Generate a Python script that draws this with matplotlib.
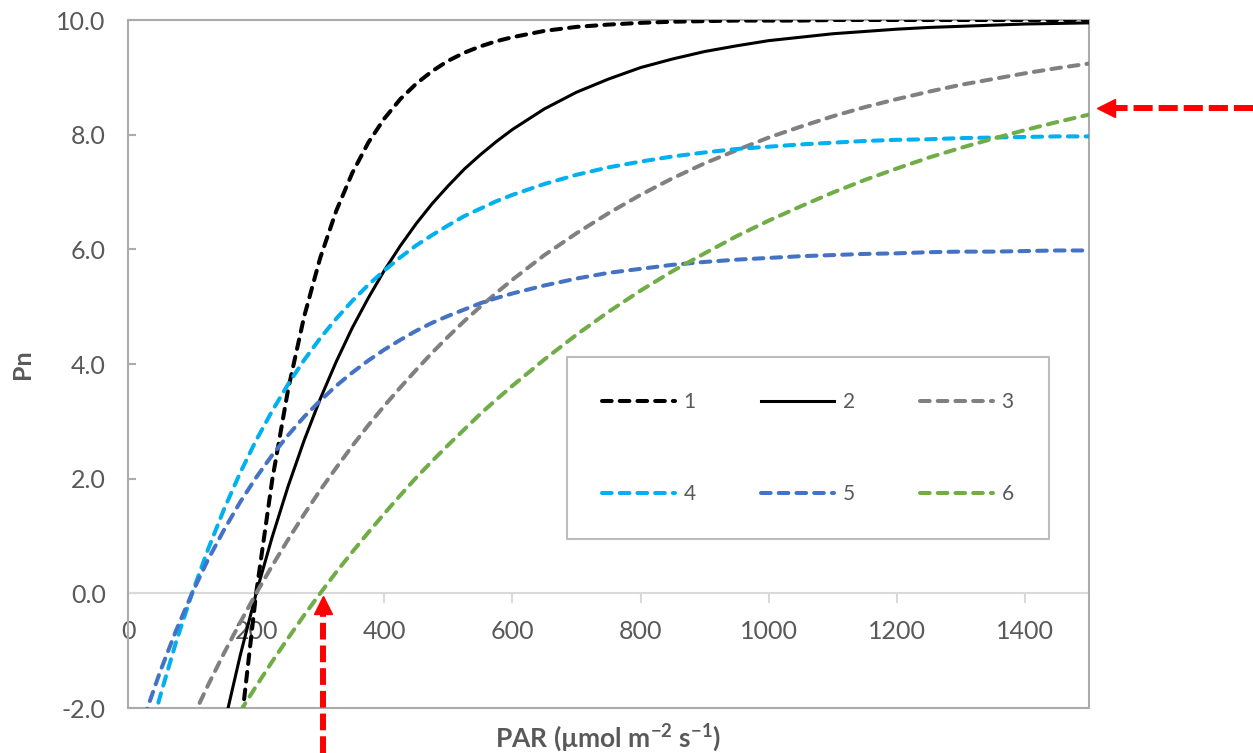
import numpy as np
import matplotlib
matplotlib.use('Agg')
import matplotlib.pyplot as plt
from matplotlib.lines import Line2D
from matplotlib.patches import Rectangle
from matplotlib.ticker import FormatStrFormatter

plt.rcParams['font.family'] = ['Lato', 'DejaVu Sans']
plt.rcParams['mathtext.fontset'] = 'custom'
plt.rcParams['mathtext.rm'] = 'Lato:bold'
plt.rcParams['mathtext.default'] = 'rm'
plt.rcParams['axes.unicode_minus'] = False

nan = np.nan

# PAR values (umol m-2 s-1)
par = [0, 25, 50, 75, 100, 125, 150, 175, 200, 225, 250, 275, 300, 325, 350, 375,
       400, 425, 450, 475, 500, 525, 550, 575, 600,
       650, 700, 750, 800, 850, 900, 950, 1000, 1050, 1100, 1150, 1200, 1250, 1300,
       1350, 1400, 1450, 1500]

pn_1 = [nan, nan, nan, nan, nan, nan, nan, -2.46, 0.00, 1.97, 3.56, 4.83, 5.85, 6.67, 7.33, 7.86,
        8.28, 8.62, 8.89, 9.11, 9.29, 9.43, 9.54, 9.63, 9.70,
        9.81, 9.88, 9.92, 9.95, 9.97, 9.98, 9.99, 9.99, 9.99, 10.0, 10.0, 10.0, 10.0, 10.0,
        10.0, 10.0, 10.0, 10.0]
pn_2 = [nan, nan, nan, nan, nan, nan, -2.30, -1.09, 0.00, 0.98, 1.87, 2.67, 3.39, 4.04, 4.63, 5.15,
        5.63, 6.06, 6.45, 6.80, 7.11, 7.40, 7.65, 7.88, 8.09,
        8.45, 8.74, 8.97, 9.17, 9.32, 9.45, 9.55, 9.64, 9.70, 9.76, 9.80, 9.84, 9.87, 9.89,
        9.91, 9.93, 9.94, 9.95]
pn_3 = [nan, nan, nan, nan, -2.19, -1.60, -1.04, -0.51, 0.00, 0.48, 0.94, 1.38, 1.80, 2.19, 2.57, 2.93,
        3.27, 3.59, 3.90, 4.20, 4.48, 4.75, 5.00, 5.24, 5.47,
        5.90, 6.28, 6.63, 6.95, 7.24, 7.50, 7.73, 7.95, 8.14, 8.32, 8.48, 8.62, 8.75, 8.87,
        8.97, 9.07, 9.16, 9.24]
pn_4 = [nan, -2.85, -1.80, -0.85, 0.00, 0.77, 1.47, 2.10, 2.67, 3.18, 3.65, 4.07, 4.45, 4.79, 5.10, 5.38,
        5.63, 5.86, 6.07, 6.25, 6.42, 6.58, 6.71, 6.84, 6.95,
        7.14, 7.30, 7.43, 7.53, 7.62, 7.69, 7.75, 7.79, 7.83, 7.86, 7.89, 7.91, 7.92, 7.94,
        7.95, 7.96, 7.97, 7.97]
pn_5 = [nan, -2.17, -1.37, -0.65, 0.00, 0.59, 1.11, 1.59, 2.02, 2.41, 2.76, 3.08, 3.36, 3.62, 3.85, 4.06,
        4.25, 4.42, 4.58, 4.72, 4.84, 4.95, 5.06, 5.15, 5.23,
        5.37, 5.49, 5.59, 5.66, 5.73, 5.78, 5.82, 5.85, 5.88, 5.90, 5.92, 5.93, 5.95, 5.96,
        5.96, 5.97, 5.98, 5.98]
pn_6 = [nan, nan, nan, nan, nan, nan, nan, -2.06, -1.62, -1.19, -0.78, -0.38, 0.00, 0.37, 0.72, 1.06,
        1.39, 1.71, 2.02, 2.31, 2.59, 2.86, 3.13, 3.38, 3.62,
        4.08, 4.51, 4.91, 5.28, 5.62, 5.93, 6.23, 6.50, 6.75, 6.99, 7.21, 7.41, 7.60, 7.77,
        7.93, 8.08, 8.22, 8.35]

series = [('1', pn_1, '#000000', 'dash'),
          ('2', pn_2, '#000000', 'solid'),
          ('3', pn_3, '#808080', 'dash'),
          ('4', pn_4, '#00B0F0', 'dash'),
          ('5', pn_5, '#4472C4', 'dash'),
          ('6', pn_6, '#70AD47', 'dash')]

x_ticks = [0, 200, 400, 600, 800, 1000, 1200, 1400]
y_ticks = [-2, 0, 2, 4, 6, 8, 10]

text_col = '#595959'
frame_col = '#ABABAB'
zero_col = '#D9D9D9'

fig = plt.figure(figsize=(12.53, 7.53), dpi=100)
ax = fig.add_axes([128 / 1253, 1 - 708 / 753, (1089 - 128) / 1253, (708 - 20) / 753])

handles = {}
for name, vals, col, style in series:
    if style == 'solid':
        ln, = ax.plot(par, vals, color=col, lw=2.2, zorder=3)
    else:
        ln, = ax.plot(par, vals, color=col, lw=2.9, zorder=3,
                      dashes=(2.4, 2.0), dash_capstyle='round')
    handles[name] = ln

ax.set_xlim(0, 1500)
ax.set_ylim(-2, 10)

# zero line carries the x ticks, the outer frame is drawn separately
for s in ['left', 'right', 'top']:
    ax.spines[s].set_visible(False)
ax.spines['bottom'].set_position(('data', 0))
ax.spines['bottom'].set_color(zero_col)
ax.spines['bottom'].set_linewidth(1.5)
ax.add_patch(Rectangle((0, 0), 1, 1, transform=ax.transAxes, fill=False,
                       edgecolor=frame_col, lw=1.5, clip_on=False, zorder=2.6))

ax.set_xticks(x_ticks)
ax.set_yticks(y_ticks)
ax.yaxis.set_major_formatter(FormatStrFormatter('%.1f'))
ax.tick_params(axis='x', direction='out', length=7, width=1.5, color=zero_col,
               labelsize=18, labelcolor=text_col, pad=12)
ax.tick_params(axis='y', direction='in', length=6, width=1.5, color=frame_col,
               labelsize=18, labelcolor=text_col, pad=16)

ax.set_ylabel('Pn', fontsize=18, fontweight='bold', color=text_col, labelpad=16)
ax.set_xlabel(r'PAR (µmol m$^{-2}$ s$^{-1}$)', fontsize=19, fontweight='bold', color=text_col)
ax.xaxis.set_label_coords(0.5, -0.02)

order = ['1', '4', '2', '5', '3', '6']
leg = ax.legend([handles[k] for k in order], order, ncol=3, loc='center',
                bbox_to_anchor=(808 / 1253, 1 - 448 / 753), bbox_transform=fig.transFigure,
                fontsize=15, frameon=True, fancybox=False, edgecolor=frame_col,
                handlelength=3.5, handletextpad=0.4, columnspacing=3.15,
                labelspacing=3.45, borderpad=1.7)
leg.get_frame().set_linewidth(1.5)
for t in leg.get_texts():
    t.set_color(text_col)

# red dashed arrows (light compensation point and plateau of curve 6)
red = '#FF0000'
fig.add_artist(Line2D([323 / 1253, 323 / 1253], [0.0, 1 - 612 / 753], color=red, lw=4.3,
                      dashes=(2.8, 1.0), transform=fig.transFigure))
fig.add_artist(Line2D([323 / 1253], [1 - 605 / 753], marker='^', markersize=12.5, color=red,
                      lw=0, transform=fig.transFigure))
fig.add_artist(Line2D([1.0, 1114 / 1253], [1 - 108 / 753, 1 - 108 / 753], color=red, lw=4.3,
                      dashes=(3.2, 1.0), transform=fig.transFigure))
fig.add_artist(Line2D([1106 / 1253], [1 - 108 / 753], marker='<', markersize=12.5, color=red,
                      lw=0, transform=fig.transFigure))

fig.savefig('out.png', dpi=100)
